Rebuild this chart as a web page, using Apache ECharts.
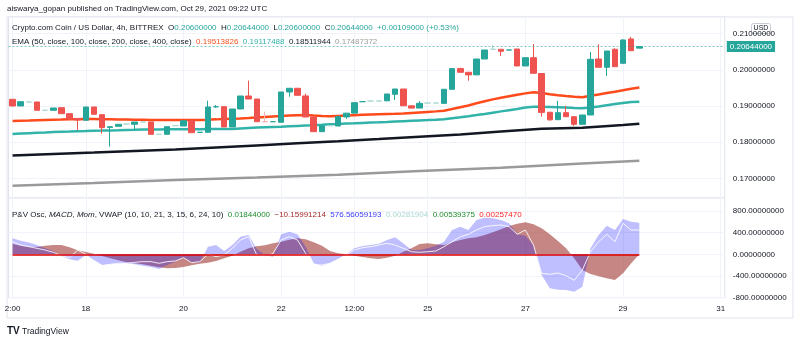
<!DOCTYPE html>
<html><head><meta charset="utf-8">
<script src="https://cdn.jsdelivr.net/npm/echarts@6/dist/echarts.min.js"></script>
<style>html,body{margin:0;padding:0;background:#fff}#c{width:800px;height:343px}</style>
</head><body><div id="c"></div>
<script>
// ---------- data ----------
const tickIdx  = [0, 9, 21, 33, 42, 51, 63, 75, 87];
const tickText = ['2:00', '18', '20', '22', '12:00', '25', '27', '29', '31'];
const slotCount = 88;

// [open, close, low, high] per 4h candle
const candles = [
 [0.19188,0.19003,0.19003,0.19188],[0.19003,0.19122,0.19003,0.19122],[0.19113,0.19113,0.19113,0.19113],[0.19113,0.18884,0.18884,0.19113],
 [0.18884,0.18884,0.18884,0.18884],[0.18884,0.18948,0.18884,0.18948],[0.18956,0.18790,0.18790,0.18956],[0.18790,0.18644,0.18644,0.18790],
 [0.18658,0.18617,0.18340,0.18658],[0.18608,0.18975,0.18608,0.18975],[0.18975,0.18774,0.18774,0.18975],[0.18763,0.18404,0.18238,0.18763],
 [0.18410,0.18430,0.17880,0.18440],[0.18442,0.18497,0.18442,0.18497],[0.18506,0.18506,0.18506,0.18506],[0.18497,0.18561,0.18340,0.18561],
 [0.18560,0.18560,0.18560,0.18560],[0.18561,0.18221,0.18221,0.18561],[0.18221,0.18221,0.18221,0.18221],[0.18221,0.18431,0.18221,0.18431],
 [0.18459,0.18459,0.18459,0.18459],[0.18450,0.18597,0.18450,0.18597],[0.18597,0.18265,0.18265,0.18597],[0.18276,0.18276,0.18276,0.18276],
 [0.18276,0.18975,0.18276,0.19150],[0.18980,0.18984,0.18950,0.19030],[0.18984,0.18423,0.18423,0.18984],[0.18423,0.18920,0.18423,0.18920],
 [0.18920,0.19279,0.18920,0.19279],[0.19279,0.19196,0.19196,0.19702],[0.19196,0.18569,0.18569,0.19196],[0.18569,0.18569,0.18569,0.18846],
 [0.18569,0.18569,0.18569,0.18569],[0.18553,0.19390,0.18553,0.19390],[0.19390,0.19492,0.19260,0.19492],[0.19492,0.19298,0.19298,0.19492],
 [0.19280,0.18699,0.18699,0.19343],[0.18699,0.18293,0.18293,0.18699],[0.18293,0.18451,0.18293,0.18451],[0.18459,0.18459,0.18459,0.18459],
 [0.18450,0.18710,0.18450,0.18710],[0.18700,0.18805,0.18650,0.18805],[0.18805,0.19094,0.18805,0.19094],[0.19122,0.19122,0.19122,0.19122],
 [0.19140,0.19140,0.19140,0.19140],[0.19140,0.19140,0.19140,0.19140],[0.19145,0.19334,0.19145,0.19334],[0.19326,0.19472,0.19170,0.19472],
 [0.19472,0.19008,0.19008,0.19472],[0.19008,0.18945,0.18945,0.19008],[0.18945,0.19077,0.18945,0.19140],[0.19085,0.19085,0.19085,0.19085],
 [0.19085,0.19085,0.19085,0.19085],[0.19075,0.19464,0.19075,0.19464],[0.19464,0.20035,0.19464,0.20035],[0.20035,0.19934,0.19934,0.20060],
 [0.19934,0.19862,0.19702,0.19934],[0.19862,0.20301,0.19862,0.20301],[0.20301,0.20550,0.20301,0.20550],[0.20569,0.20569,0.20569,0.20688],
 [0.20569,0.20514,0.20384,0.20569],[0.20550,0.20550,0.20550,0.20550],[0.20577,0.20108,0.20108,0.20577],[0.20108,0.20337,0.20108,0.20337],
 [0.20337,0.19906,0.19906,0.20715],[0.19900,0.18825,0.18707,0.19900],[0.18830,0.18620,0.18597,0.18830],[0.18625,0.18818,0.18625,0.19145],
 [0.18818,0.18707,0.18707,0.19003],[0.18707,0.18497,0.18451,0.18707],[0.18497,0.18754,0.18497,0.18754],[0.18754,0.20293,0.18754,0.20495],
 [0.20301,0.20072,0.20072,0.20707],[0.20072,0.20522,0.19832,0.20522],[0.20569,0.20088,0.20088,0.20597],[0.20182,0.20826,0.20182,0.20850],
 [0.20854,0.20530,0.20530,0.20917],[0.20600,0.20644,0.20600,0.20644]
];
const fadedUp = [2, 4, 14, 16, 18, 20, 39, 44, 45, 51, 52, 59];
const fadedDown = [31];

const ema50 = [0.18591,0.18597,0.18602,0.18610,0.18616,0.18622,0.18627,0.18633,0.18638,0.18644,
 0.18641,0.18635,0.18633,0.18630,0.18627,0.18624,0.18622,0.18619,0.18616,0.18616,
 0.18616,0.18616,0.18616,0.18616,0.18624,0.18633,0.18644,0.18652,0.18660,0.18671,
 0.18685,0.18699,0.18713,0.18727,0.18740,0.18749,0.18754,0.18740,0.18727,0.18716,
 0.18727,0.18738,0.18749,0.18760,0.18768,0.18776,0.18782,0.18787,0.18798,0.18812,
 0.18826,0.18840,0.18854,0.18873,0.18920,0.18970,0.19017,0.19077,0.19135,0.19185,
 0.19229,0.19273,0.19312,0.19351,0.19381,0.19362,0.19329,0.19298,0.19276,0.19257,
 0.19243,0.19285,0.19323,0.19362,0.19398,0.19439,0.19481,0.19514];
const ema100 = [0.18229,0.18240,0.18251,0.18262,0.18271,0.18282,0.18290,0.18298,0.18307,0.18312,
 0.18318,0.18323,0.18329,0.18334,0.18340,0.18345,0.18351,0.18354,0.18356,0.18359,
 0.18359,0.18359,0.18362,0.18362,0.18365,0.18365,0.18367,0.18367,0.18381,0.18395,
 0.18406,0.18417,0.18425,0.18431,0.18442,0.18453,0.18464,0.18472,0.18483,0.18497,
 0.18506,0.18517,0.18525,0.18536,0.18544,0.18552,0.18561,0.18572,0.18583,0.18594,
 0.18605,0.18613,0.18622,0.18638,0.18666,0.18693,0.18721,0.18751,0.18782,0.18818,
 0.18854,0.18887,0.18920,0.18959,0.18983,0.18981,0.18975,0.18967,0.18959,0.18948,
 0.18939,0.18961,0.18989,0.19022,0.19055,0.19086,0.19113,0.19117];
const ema200 = [[0,0.17635],[5,0.17677],[10,0.17715],[15,0.17757],[20,0.17798],[25,0.17856],[30,0.17914],
 [35,0.17972],[40,0.18028],[45,0.18088],[50,0.18152],[55,0.18218],[60,0.18301],[65,0.18373],[70,0.18403],[75,0.18478],[77,0.18512]];
const ema400 = [[0,0.16798],[10,0.16876],[20,0.16959],[30,0.17028],[40,0.17102],[50,0.17207],[60,0.17296],[70,0.17414],[77,0.17487]];

const lastPrice = 0.20644;
const lastPriceText = '0.20644000';

// oscillator pane
const macdArea = [190,160,135,135,160,171,171,130,74,43,
 12,-30,-74,-110,-148,-166,-184,-210,-240,-258,
 -252,-234,-203,-172,-154,-123,-74,-25,48,110,
 147,165,203,232,270,295,276,220,160,61,
 18,0,-25,-50,-74,-87,-62,-25,48,110,
 190,203,184,171,220,264,295,313,356,405,
 461,522,565,590,553,480,369,245,110,-74,
 -289,-363,-406,-443,-474,-350,-166,0];
const momArea = [295,250,218,171,110,61,-30,-92,-117,-12,
 -105,-197,-184,-172,-166,-184,-210,-234,-271,-197,
 -135,-62,-154,-154,140,171,61,171,325,356,
 98,-12,-43,369,417,369,140,-166,-210,-166,
 -87,0,110,153,171,196,264,313,203,79,
 79,110,160,232,448,510,448,632,676,663,
 632,571,369,344,171,-381,-627,-652,-660,-689,
 -597,110,356,528,448,651,602,583];
const vwapLine = [232,171,140,110,79,37,-25,-62,79,0,
 -135,-210,-184,-166,-166,-148,-135,-135,-166,-135,
 -123,-62,-154,-135,0,-43,-12,110,264,325,
 -12,-62,18,264,325,264,18,-197,-197,-166,
 -92,-12,79,122,140,171,203,171,110,48,
 37,48,61,140,232,325,369,448,510,528,
 540,510,369,448,171,-350,-369,-344,-394,-480,
 -289,48,232,369,232,571,448,448];
const oscLastIndex = 77;

// ---------- build ----------
const categories = [];
for (let i = 0; i < slotCount; i++) categories.push('');
tickIdx.forEach((k, j) => { categories[k] = tickText[j]; });

const UP = '#26a69a', DOWN = '#ef5350', UPF = '#a8d9d4', DOWNF = '#f7b3b1';
const candleData = candles.map((c, i) => {
  if (fadedUp.indexOf(i) >= 0) return { value: c, itemStyle: { color: UPF, borderColor: UPF, color0: UPF, borderColor0: UPF } };
  if (fadedDown.indexOf(i) >= 0) return { value: c, itemStyle: { color: DOWNF, borderColor: DOWNF, color0: DOWNF, borderColor0: DOWNF } };
  return c;
});

const FONT = 'Liberation Sans, Arial, sans-serif';
const TXT = '#131722';
const GRIDC = '#f0f3fa';
const showTick = (idx, val) => val !== '';

const G0 = { left: 8.5, top: 17, width: 716.3, height: 181 };
const G1 = { left: 8.5, top: 198, width: 716.3, height: 99.7 };

const xBase = (gi, showLabels) => ({
  type: 'category', gridIndex: gi, data: categories, boundaryGap: true,
  axisLine: { show: false }, axisTick: { show: false },
  axisLabel: { show: showLabels, interval: showTick, color: TXT, fontSize: 8, fontFamily: FONT, margin: 7 },
  splitLine: { show: true, interval: showTick, alignWithLabel: true, lineStyle: { color: GRIDC, width: 1 } }
});

const st = (color, extra) => Object.assign({ color, fontSize: 8, fontFamily: FONT, fontWeight: 'normal' }, extra || {});
const rich = {
  d: st(TXT), i: st(TXT, { fontStyle: 'italic' }), g: st('#26a69a'),
  e1: st('#f4511e'), e2: st('#2fb0a7'), e3: st('#131722'), e4: st('#9e9e9e'),
  o1: st('#1e8c2c'), o2: st('#a52a2a'), o3: st('#3b3bff'), o4: st('#a8d8d2'), o5: st('#ff2020')
};
const legendStyle = { rich, fontWeight: 'normal', fontSize: 8, fontFamily: FONT, color: TXT };

const option = {
  animation: false,
  backgroundColor: '#ffffff',
  textStyle: { fontFamily: FONT },
  title: [
    { left: 7, top: 5, padding: 0, text: 'aiswarya_gopan published on TradingView.com, Oct 29, 2021 09:22 UTC',
      textStyle: { fontSize: 8, fontWeight: 'normal', color: TXT, fontFamily: FONT } },
    { left: 12, top: 24, padding: 0, text: '{d|Crypto.com Coin / US Dollar, 4h, BITTREX  O}{g|0.20600000}{d|  H}{g|0.20644000}{d|  L}{g|0.20600000}{d|  C}{g|0.20644000  +0.00109000 (+0.53%)}',
      textStyle: legendStyle },
    { left: 12, top: 37.5, padding: 0, text: '{d|EMA (50, close, 100, close, 200, close, 400, close)  }{e1|0.19513826}{d|  }{e2|0.19117488}{d|  }{e3|0.18511944}{d|  }{e4|0.17487372}',
      textStyle: legendStyle },
    { left: 12, top: 211, padding: 0, text: '{d|P&V Osc, }{i|MACD}{d|, }{i|Mom}{d|, VWAP (10, 10, 21, 3, 15, 6, 24, 10)  }{o1|0.01844000}{d|  }{o2|\u221210.15991214}{d|  }{o3|576.56059193}{d|  }{o4|0.00281904}{d|  }{o1|0.00539375}{d|  }{o5|0.00257470}',
      textStyle: legendStyle }
  ],
  grid: [
    Object.assign({ show: true, borderColor: '#e0e3eb', borderWidth: 1, outerBoundsMode: 'none', containLabel: false }, G0),
    Object.assign({ show: true, borderColor: '#e0e3eb', borderWidth: 1, outerBoundsMode: 'none', containLabel: false }, G1)
  ],
  xAxis: [ xBase(0, false), xBase(1, true) ],
  yAxis: [
    { type: 'value', gridIndex: 0, position: 'right', min: 0.16461, max: 0.21461, splitNumber: 5,
      axisLine: { show: false }, axisTick: { show: false },
      axisLabel: { color: TXT, fontSize: 8, fontFamily: FONT, margin: 8, showMinLabel: false, showMaxLabel: false,
        formatter: v => v.toFixed(8) },
      splitLine: { lineStyle: { color: GRIDC } } },
    { type: 'value', gridIndex: 1, position: 'right', min: -800, max: 1038, interval: 400,
      axisLine: { show: false }, axisTick: { show: false },
      axisLabel: { color: TXT, fontSize: 8, fontFamily: FONT, margin: 8, showMaxLabel: false,
        formatter: v => v.toFixed(8) },
      splitLine: { lineStyle: { color: GRIDC } } }
  ],
  series: [
    { name: 'EMA400', type: 'line', xAxisIndex: 0, yAxisIndex: 0, data: ema400, showSymbol: false, z: 1,
      lineStyle: { color: '#9a9a9a', width: 2.5 } },
    { name: 'EMA200', type: 'line', xAxisIndex: 0, yAxisIndex: 0, data: ema200, showSymbol: false, z: 2,
      lineStyle: { color: '#131722', width: 2.5 } },
    { name: 'EMA100', type: 'line', xAxisIndex: 0, yAxisIndex: 0, data: ema100, showSymbol: false, z: 2,
      lineStyle: { color: '#31b3aa', width: 2.5 } },
    { name: 'EMA50', type: 'line', xAxisIndex: 0, yAxisIndex: 0, data: ema50, showSymbol: false, z: 2,
      lineStyle: { color: '#ff4a1c', width: 2.5 },
      markLine: { silent: true, symbol: ['none', 'none'], precision: 8,
        lineStyle: { color: 'rgba(38,166,154,0.6)', type: [2, 2], width: 1 },
        label: { show: true, position: 'end', distance: 2, formatter: lastPriceText, color: '#ffffff',
          backgroundColor: '#26a69a', padding: [2, 3, 1, 3], fontSize: 8, fontFamily: FONT },
        data: [{ yAxis: lastPrice }] } },
    { name: 'Price', type: 'candlestick', xAxisIndex: 0, yAxisIndex: 0, data: candleData, barWidth: 6, z: 3,
      itemStyle: { color: UP, color0: DOWN, borderColor: UP, borderColor0: DOWN, borderWidth: 1 } },
    { name: 'MACD', type: 'line', xAxisIndex: 1, yAxisIndex: 1, data: macdArea, showSymbol: false, z: 2,
      lineStyle: { width: 0 }, areaStyle: { color: 'rgba(155,45,40,0.82)', origin: 0 },
      markLine: { silent: true, symbol: ['none', 'none'], label: { show: false },
        lineStyle: { color: '#e00000', type: 'solid', width: 1.5 },
        data: [[{ coord: [0, 0] }, { coord: [oscLastIndex, 0] }]] } },
    { name: 'Mom', type: 'line', xAxisIndex: 1, yAxisIndex: 1, data: momArea, showSymbol: false, z: 3,
      lineStyle: { width: 0 }, areaStyle: { color: 'rgba(0,0,255,0.36)', origin: 0 } },
    { name: 'VWAP', type: 'line', xAxisIndex: 1, yAxisIndex: 1, data: vwapLine, showSymbol: false, z: 4,
      lineStyle: { color: 'rgba(255,255,255,0.85)', width: 1 } }
  ],
  graphic: [
    { type: 'rect', shape: { x: 7, y: 17, width: 786, height: 301 }, style: { fill: 'none', stroke: '#e0e3eb', lineWidth: 1 }, silent: true },
    { type: 'group', left: 751, top: 23, z: 100, children: [
      { type: 'rect', shape: { x: 0, y: 0, width: 19, height: 10, r: 2 }, style: { fill: '#fff', stroke: '#c9ccd4', lineWidth: 1 } },
      { type: 'text', x: 9.5, y: 5, style: { text: 'USD', fill: TXT, fontSize: 7, fontFamily: FONT, align: 'center', verticalAlign: 'middle' } }
    ] },
    { type: 'text', left: 7, top: 326, style: { text: 'TV', fill: TXT, fontSize: 10, fontWeight: 'bold', fontFamily: FONT } },
    { type: 'text', left: 22, top: 327, style: { text: 'TradingView', fill: TXT, fontSize: 8.5, fontFamily: FONT } }
  ]
};

const chart = echarts.init(document.getElementById('c'), null, { renderer: 'canvas' });
chart.setOption(option);
</script>
</body></html>
